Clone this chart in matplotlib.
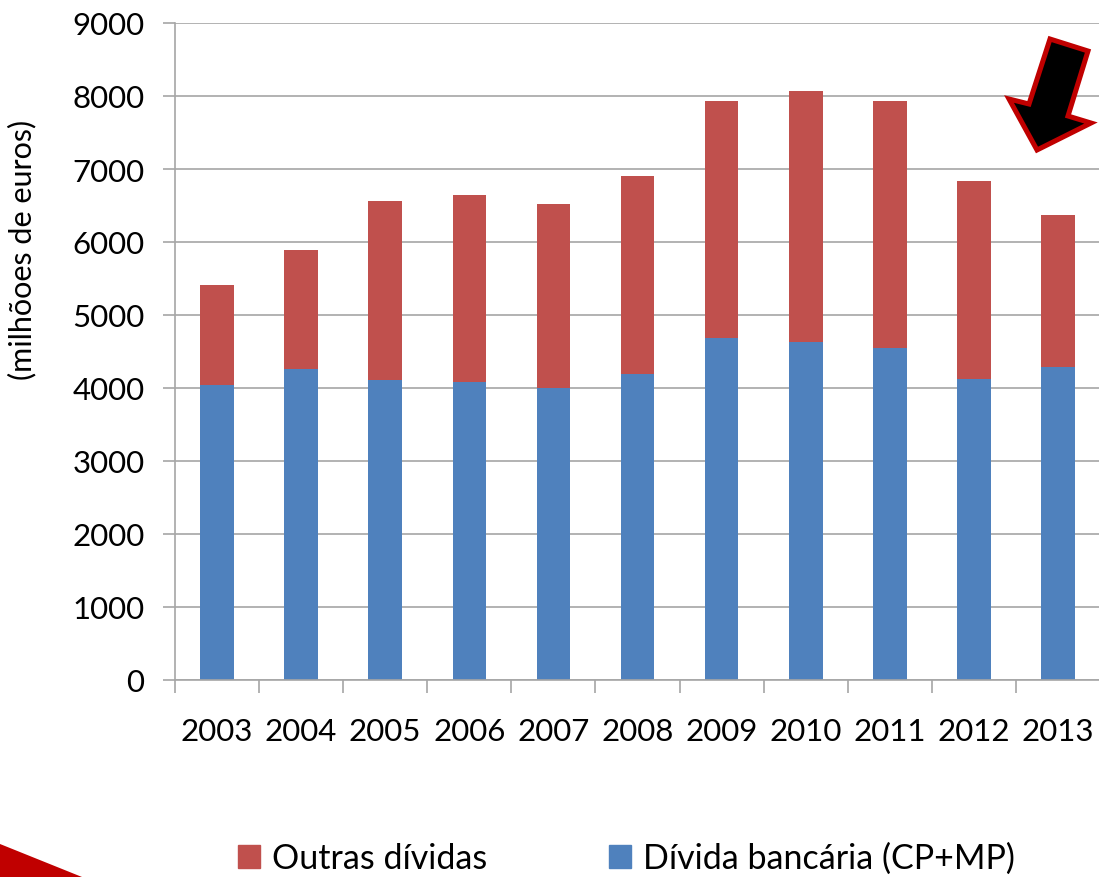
import numpy as np
import matplotlib.pyplot as plt
from matplotlib.patches import Polygon, Patch

plt.rcParams['font.family'] = ['Lato', 'DejaVu Sans']

# Dívida (milhões de euros)
anos = ['2003', '2004', '2005', '2006', '2007', '2008', '2009', '2010', '2011', '2012', '2013']
divida_bancaria = np.array([4040, 4260, 4110, 4080, 4000, 4190, 4685, 4630, 4550, 4125, 4290])
divida_total = np.array([5410, 5890, 6560, 6645, 6520, 6905, 7930, 8065, 7930, 6835, 6370])
outras_dividas = divida_total - divida_bancaria

cor_azul = '#4F81BD'
cor_vermelho = '#C0504D'
cor_grelha = '#A6A6A6'

W, H = 1099, 878
fig = plt.figure(figsize=(W / 100, H / 100), dpi=100)
ax = fig.add_axes([175 / W, (H - 681) / H, (1100 - 175) / W, 657 / H])

x = np.arange(len(anos))
ax.bar(x, divida_bancaria, width=0.4, color=cor_azul, zorder=2)
ax.bar(x, outras_dividas, width=0.4, bottom=divida_bancaria, color=cor_vermelho, zorder=2)

ax.set_xlim(-0.5, len(anos) - 0.5)
ax.set_ylim(0, 9000)
ax.set_yticks(np.arange(0, 9001, 1000))
ax.yaxis.grid(True, color=cor_grelha, linewidth=1.2, zorder=0)
ax.set_axisbelow(True)

ax.set_xticks(x)
ax.set_xticklabels(anos)
ax.set_xticks(np.arange(-0.5, len(anos)), minor=True)
ax.tick_params(axis='x', which='major', length=0, pad=27, labelsize=22.5)
ax.tick_params(axis='x', which='minor', length=9, width=1.2, color=cor_grelha, direction='out')
ax.tick_params(axis='y', length=9, width=1.2, color=cor_grelha, pad=13, labelsize=22.5)

for lado in ['top', 'right']:
    ax.spines[lado].set_visible(False)
ax.spines['left'].set_color(cor_grelha)
ax.spines['bottom'].set_color(cor_grelha)
ax.spines['left'].set_linewidth(1.2)
ax.spines['bottom'].set_linewidth(1.2)

ax.set_ylabel('(milhõoes de euros)', fontsize=22, va='center')
ax.yaxis.set_label_coords(-0.165, 0.656)

# legenda em baixo
handles = [Patch(color=cor_vermelho, label='Outras dívidas'),
           Patch(color=cor_azul, label='Dívida bancária (CP+MP)')]
fig.legend(handles=handles, loc='center', bbox_to_anchor=(0.570, 1 - 859 / H), ncol=2,
           frameon=False, fontsize=24.5, handlelength=0.65, handleheight=0.65,
           handletextpad=0.35, columnspacing=3.6)


def px(pontos):
    return [(a / W, 1 - b / H) for a, b in pontos]


# seta preta com contorno vermelho
seta = [(1050, 40), (1088, 52), (1068, 117), (1091, 124), (1037, 151), (1009, 100), (1029, 105)]
fig.patches.append(Polygon(px(seta), closed=True, facecolor='black', edgecolor='#C00000',
                           linewidth=3.6, joinstyle='miter', transform=fig.transFigure))

# triângulo vermelho no canto
triangulo = [(0, 845), (82, 878), (0, 878)]
fig.patches.append(Polygon(px(triangulo), closed=True, facecolor='#C00000', edgecolor='none',
                           transform=fig.transFigure))

fig.savefig('out.png', dpi=100)
